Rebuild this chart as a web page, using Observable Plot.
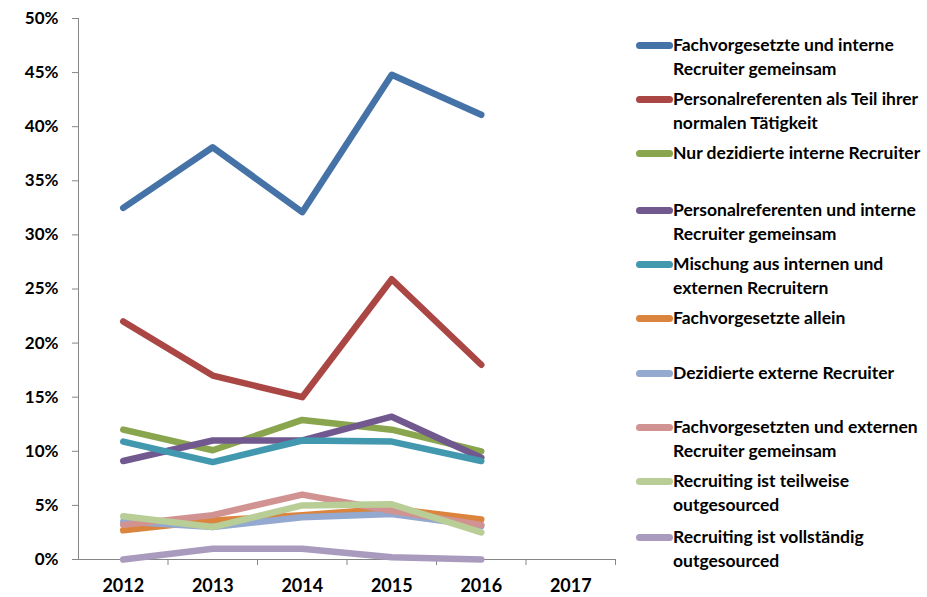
<!DOCTYPE html>
<html><head><meta charset="utf-8">
<script src="https://cdn.jsdelivr.net/npm/d3@7"></script>
<script src="https://cdn.jsdelivr.net/npm/@observablehq/plot@0.6"></script>
<style>
body{margin:0;background:#fff;}
#wrap{position:relative;width:927px;height:597px;font-family:Lato,"Open Sans",sans-serif;}
#legend{position:absolute;left:636px;top:0;width:291px;}
.item{position:absolute;left:0;display:flex;align-items:flex-start;font-weight:bold;font-size:17.5px;line-height:24px;color:#000;white-space:nowrap;}
.sw{width:37px;height:7px;border-radius:3.5px;margin-top:9px;flex:none;}
</style></head>
<body><div id="wrap"><div id="legend"></div></div>
<script>
const years = [2012, 2013, 2014, 2015, 2016, 2017];
const dataYears = [2012, 2013, 2014, 2015, 2016];
const seriesNames = [
  "Fachvorgesetzte und interne Recruiter gemeinsam",
  "Personalreferenten als Teil ihrer normalen Tätigkeit",
  "Nur dezidierte interne Recruiter",
  "Personalreferenten und interne Recruiter gemeinsam",
  "Mischung aus internen und externen Recruitern",
  "Fachvorgesetzte allein",
  "Dezidierte externe Recruiter",
  "Fachvorgesetzten und externen Recruiter gemeinsam",
  "Recruiting ist teilweise outgesourced",
  "Recruiting ist vollständig outgesourced"
];
const legendLines = [
  ["Fachvorgesetzte und interne", "Recruiter gemeinsam"],
  ["Personalreferenten als Teil ihrer", "normalen Tätigkeit"],
  ["Nur dezidierte interne Recruiter"],
  ["Personalreferenten und interne", "Recruiter gemeinsam"],
  ["Mischung aus internen und", "externen Recruitern"],
  ["Fachvorgesetzte allein"],
  ["Dezidierte externe Recruiter"],
  ["Fachvorgesetzten und externen", "Recruiter gemeinsam"],
  ["Recruiting ist teilweise", "outgesourced"],
  ["Recruiting ist vollständig", "outgesourced"]
];
const colors = ["#4572A7","#AA4643","#89A54E","#71588F","#4198AF","#DB843D","#93A9CF","#D19392","#B9CD96","#A99BBD"];
const s1 = [32.5, 38.1, 32.1, 44.8, 41.1];
const s2 = [22.0, 17.0, 15.0, 25.9, 18.0];
const s3 = [12.0, 10.1, 12.9, 12.0, 10.0];
const s4 = [9.1, 11.0, 11.0, 13.2, 9.4];
const s5 = [10.9, 9.0, 11.0, 10.9, 9.1];
const s6 = [2.7, 3.6, 4.1, 4.7, 3.7];
const s7 = [3.5, 3.0, 3.9, 4.2, 3.1];
const s8 = [3.2, 4.1, 6.0, 4.5, 3.2];
const s9 = [4.0, 3.0, 5.0, 5.1, 2.5];
const s10 = [0.0, 1.0, 1.0, 0.2, 0.0];
const yTicks = [0, 5, 10, 15, 20, 25, 30, 35, 40, 45, 50];

const allSeries = [s1, s2, s3, s4, s5, s6, s7, s8, s9, s10];
const rows = [];
allSeries.forEach((s, i) => s.forEach((v, j) => rows.push({series: seriesNames[i], year: dataYears[j], value: v})));
const boundaries = years.map(y => y - 0.5).concat([years[years.length - 1] + 0.5]);

const axisColor = "#868686";
const chart = Plot.plot({
  width: 927, height: 597,
  marginLeft: 78, marginRight: 312, marginTop: 18, marginBottom: 38,
  style: {fontFamily: "Lato, 'Open Sans', sans-serif", background: "transparent"},
  x: {type: "linear", domain: [boundaries[0], boundaries[boundaries.length - 1]], label: null},
  y: {domain: [0, 50], label: null},
  color: {domain: seriesNames, range: colors},
  marks: [
    Plot.ruleX([boundaries[0]], {y1: 0, y2: 50, stroke: axisColor, strokeWidth: 1}),
    Plot.ruleY([0], {stroke: axisColor, strokeWidth: 1}),
    Plot.axisX({ticks: boundaries.slice(1), tickSize: 6, tickFormat: () => "", stroke: axisColor, label: null}),
    Plot.axisX({ticks: years, tickSize: 0, tickPadding: 20, tickFormat: d => String(d), fontSize: 18, fontWeight: "bold", fill: "#000", label: null}),
    Plot.axisY({ticks: yTicks, tickSize: 6, tickPadding: 14, tickFormat: d => d + "%", fontSize: 17, fontWeight: "bold", stroke: axisColor, fill: "#000", label: null}),
    Plot.line(rows, {x: "year", y: "value", z: "series", stroke: "series", strokeWidth: 6.5, strokeLinejoin: "round", strokeLinecap: "round"})
  ]
});
chart.style.position = "absolute";
chart.style.left = "0";
chart.style.top = "0";
document.getElementById("wrap").prepend(chart);

const legendTops = [33, 87, 141, 198, 252, 306, 361, 415, 469, 525];
const legend = document.getElementById("legend");
legendLines.forEach((lines, i) => {
  const it = document.createElement("div");
  it.className = "item";
  it.style.top = legendTops[i] + "px";
  const sw = document.createElement("div");
  sw.className = "sw";
  sw.style.background = colors[i];
  const tx = document.createElement("div");
  tx.innerHTML = lines.join("<br>");
  it.appendChild(sw); it.appendChild(tx);
  legend.appendChild(it);
});
</script></body></html>
